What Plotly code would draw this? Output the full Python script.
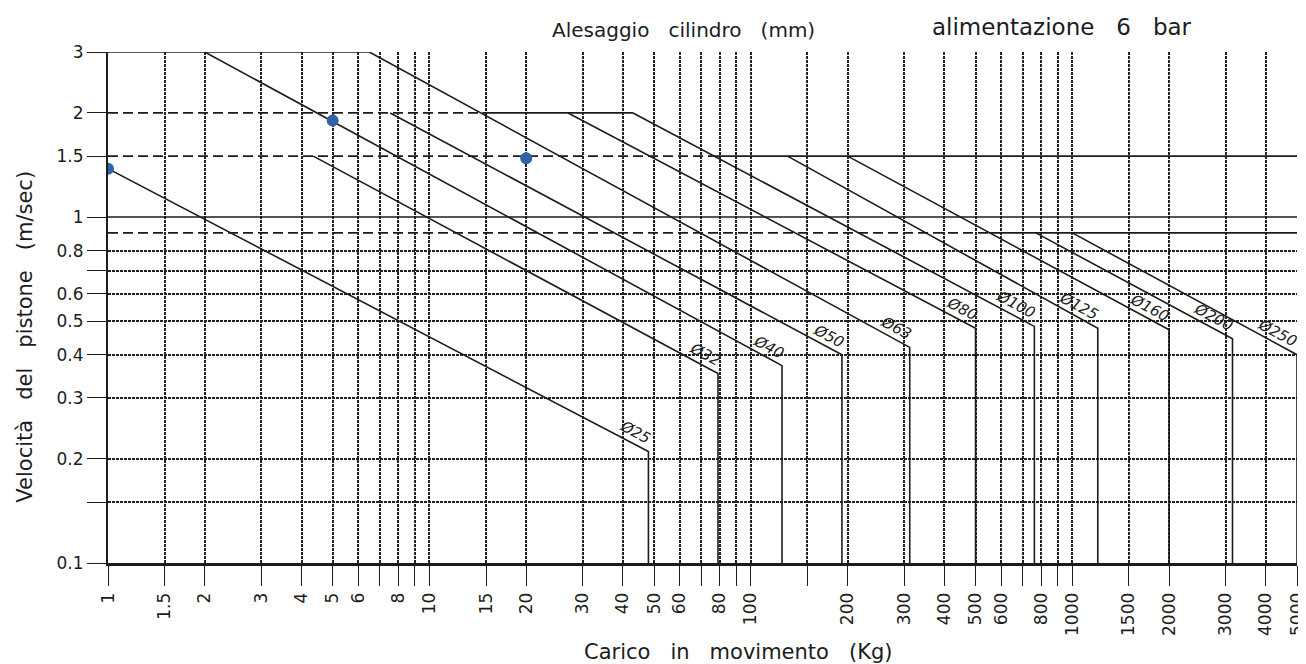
import math
import plotly.graph_objects as go

# ---------------- data ----------------
bore_labels = ["Ø25", "Ø32", "Ø40", "Ø50", "Ø63", "Ø80", "Ø100", "Ø125", "Ø160", "Ø200", "Ø250"]
start_load = [1, 4.35, 2, 7.55, 6.5, 27, 43, 130, 200, 770, 1000]          # kg, start of sloped segment
start_speed = [1.38, 1.5, 3, 2, 3, 2, 2, 1.5, 1.5, 0.9, 0.9]              # m/s
max_load = [48, 79, 125, 192, 312, 500, 762, 1200, 2000, 3150, 5000]       # kg, end of sloped segment
end_speed = [0.21, 0.353, 0.372, 0.40, 0.42, 0.477, 0.483, 0.477, 0.472, 0.445, 0.40]
floor_speed = 0.1

# speed-limit lines: dashed part (from 1 kg) and solid part
dash_speed = [2, 1.5, 0.9]
dash_end_load = [14.6, 76, 550]
solid_speed = [3, 2, 1.5, 1.0, 0.9]
solid_start_load = [1, 14.6, 76, 1, 550]
solid_end_load = [6.5, 43, 5000, 5000, 5000]

# highlighted points
dot_load = [1, 5, 20]
dot_speed = [1.38, 1.9, 1.48]

# axes
x_ticks = [1, 1.5, 2, 3, 4, 5, 6, 7, 8, 9, 10, 15, 20, 30, 40, 50, 60, 70, 80, 90, 100, 150,
           200, 300, 400, 500, 600, 700, 800, 900, 1000, 1500, 2000, 3000, 4000, 5000]
x_text = ["1", "1.5", "2", "3", "4", "5", "6", "", "8", "", "10", "15", "20", "30", "40", "50", "60", "",
          "80", "", "100", "", "200", "300", "400", "500", "600", "", "800", "", "1000", "1500",
          "2000", "3000", "4000", "5000"]
y_grid = [0.15, 0.2, 0.3, 0.4, 0.5, 0.6, 0.7, 0.8, 3]
y_ticks = [0.1, 0.15, 0.2, 0.3, 0.4, 0.5, 0.6, 0.7, 0.8, 1, 1.5, 2, 3]
y_text = ["0.1", "", "0.2", "0.3", "0.4", "0.5", "0.6", "", "0.8", "1", "1.5", "2", "3"]

INK = "#1c1c1c"
GRID = "#222222"
FONT = "DejaVu Sans"
SP = "\u00a0\u00a0\u00a0"

fig = go.Figure()

# speed-limit lines
for s, e in zip(dash_speed, dash_end_load):
    fig.add_trace(go.Scatter(x=[1, e], y=[s, s], mode="lines",
                             line=dict(color=INK, width=1.6, dash="10px,5px"),
                             hoverinfo="skip", showlegend=False))
for s, a, b in zip(solid_speed, solid_start_load, solid_end_load):
    fig.add_trace(go.Scatter(x=[a, b], y=[s, s], mode="lines",
                             line=dict(color=INK, width=1.6),
                             hoverinfo="skip", showlegend=False))

# bore curves
for lab, x0, y0, x1, y1 in zip(bore_labels, start_load, start_speed, max_load, end_speed):
    fig.add_trace(go.Scatter(x=[x0, x1, x1], y=[y0, y1, floor_speed], mode="lines",
                             line=dict(color=INK, width=1.6),
                             name=lab, showlegend=False))

# blue points
fig.add_trace(go.Scatter(x=dot_load, y=dot_speed, mode="markers",
                         marker=dict(size=12, color="#2e63a6"),
                         showlegend=False))

# invisible trace for the label axis
fig.add_trace(go.Scatter(x=[None], y=[None], yaxis="y2", showlegend=False))

# bore labels along the lines
theta = math.radians(28)
annotations = []
for lab, x1, y1 in zip(bore_labels, max_load, end_speed):
    d = 6.6 * len(lab) + 1
    n = 10.5
    xs = -math.cos(theta) * d + math.sin(theta) * n
    ys = math.sin(theta) * d + math.cos(theta) * n
    annotations.append(dict(x=math.log10(x1), y=math.log10(y1), xref="x", yref="y",
                            text="<i>" + lab + "</i>", showarrow=False, textangle=28,
                            xanchor="center", yanchor="middle", xshift=xs, yshift=ys,
                            font=dict(family=FONT, size=15, color=INK)))

annotations += [
    dict(x=0.4836, y=1.043, xref="paper", yref="paper", showarrow=False,
         text="Alesaggio" + SP + "cilindro" + SP + "(mm)", xanchor="center", yanchor="middle",
         font=dict(family=FONT, size=20, color=INK)),
    dict(x=0.8024, y=1.049, xref="paper", yref="paper", showarrow=False,
         text="alimentazione" + SP + "6" + SP + "bar", xanchor="center", yanchor="middle",
         font=dict(family=FONT, size=23, color=INK)),
    dict(x=0.53, y=-0.174, xref="paper", yref="paper", showarrow=False,
         text="Carico" + SP + "in" + SP + "movimento" + SP + "(Kg)", xanchor="center", yanchor="middle",
         font=dict(family=FONT, size=21, color=INK)),
    dict(x=-0.0698, y=0.443, xref="paper", yref="paper", showarrow=False, textangle=-90,
         text="Velocità" + SP + "del" + SP + "pistone" + SP + "(m/sec)", xanchor="center", yanchor="middle",
         font=dict(family=FONT, size=21, color=INK)),
]

# the page body adds an 8px offset: figure is 1298x656 so that the plot area sits at
# x 108..1297, y 52..563 in the 1306x664 window
fig.update_layout(
    width=1298, height=656,
    margin=dict(l=100, r=9, t=44, b=101, autoexpand=False),
    paper_bgcolor="white", plot_bgcolor="white",
    annotations=annotations,
    xaxis=dict(type="log", range=[0, math.log10(5000)], tickmode="array",
               tickvals=x_ticks, ticktext=x_text, tickangle=-90, ticklabeloverflow="allow",
               ticks="outside", ticklen=20, tickwidth=1.2, tickcolor=INK,
               showgrid=True, gridcolor=GRID, gridwidth=1.5, griddash="3px,1px",
               showline=True, linecolor=INK, linewidth=2.8, zeroline=False,
               tickfont=dict(family=FONT, size=17, color=INK)),
    yaxis=dict(type="log", range=[-1, math.log10(3)], tickmode="array",
               tickvals=y_grid, showticklabels=False, ticks="",
               showgrid=True, gridcolor=GRID, gridwidth=1.5, griddash="3px,1px",
               showline=True, linecolor=INK, linewidth=1.8, zeroline=False),
    yaxis2=dict(type="log", range=[-1, math.log10(3)], overlaying="y", side="left", anchor="x",
                tickmode="array", tickvals=y_ticks, ticktext=y_text,
                ticks="outside", ticklen=20, tickwidth=1.2, tickcolor=INK,
                showgrid=False, showline=False, zeroline=False,
                tickfont=dict(family=FONT, size=17, color=INK)),
)

fig.write_html("out.html")
